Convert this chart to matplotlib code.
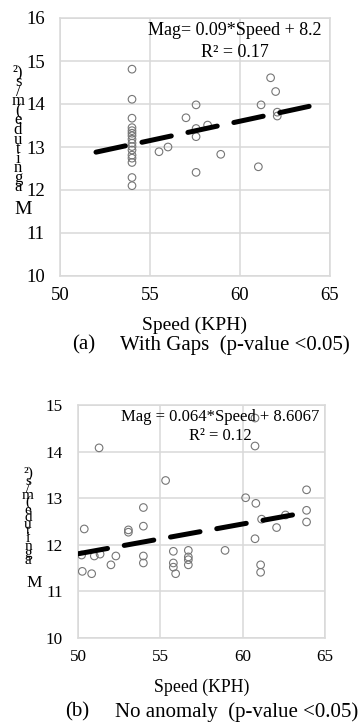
import matplotlib
matplotlib.use("Agg")
import matplotlib.pyplot as plt
import numpy as np

plt.rcParams['font.family'] = ['Liberation Serif', 'DejaVu Serif']

# (a) With gaps
speed_a = [54, 54, 54, 54, 54, 54, 54, 54, 54, 54, 54, 54, 54, 54, 54, 54,
           55.5, 56.0, 57.0, 57.56, 57.56, 57.56, 58.2, 58.93, 57.56,
           61.7, 61.98, 61.17, 62.07, 62.07, 61.02]
mag_a = [14.81, 14.11, 13.67, 13.45, 13.38, 13.32, 13.26, 13.18, 13.09, 13.01,
         12.93, 12.81, 12.74, 12.64, 12.29, 12.10,
         12.89, 13.00, 13.68, 13.98, 13.43, 13.24, 13.51, 12.83, 12.41,
         14.61, 14.29, 13.98, 13.81, 13.72, 12.54]
slope_a, icpt_a = 0.09, 8.2
fit_range_a = [52, 64]

# (b) No anomaly
speed_b = [50.38, 50.22, 50.26, 50.83, 50.99, 51.34, 51.28, 52.0, 52.3, 53.06,
           53.06, 53.97, 53.97, 53.97, 53.97, 55.32, 55.79, 55.79, 55.79, 55.93,
           56.7, 56.7, 56.7, 56.7, 58.93, 60.18, 60.75, 60.75, 60.8, 60.75,
           61.09, 61.09, 61.15, 62.06, 62.6, 63.88, 63.88, 63.88]
mag_b = [12.34, 11.78, 11.43, 11.38, 11.76, 11.80, 14.08, 11.57, 11.76, 12.32,
         12.27, 12.80, 12.40, 11.76, 11.61, 13.38, 11.86, 11.61, 11.52, 11.38,
         11.88, 11.74, 11.68, 11.57, 11.88, 13.01, 14.72, 14.12, 12.89, 12.13,
         11.57, 11.41, 12.55, 12.37, 12.64, 13.18, 12.74, 12.49]
slope_b, icpt_b = 0.064, 8.6067
fit_range_b = [50, 64]

W, H = 358, 722
fig = plt.figure(figsize=(W / 100, H / 100), dpi=100)

def px(x0, y0, x1, y1):
    return [x0 / W, 1 - y1 / H, (x1 - x0) / W, (y1 - y0) / H]

def draw(ax, xs, ys, slope, icpt, fit_range, ylim, eq, r2, eq_x, fs, fs_eq):
    grid_c = '#d9d9d9'
    ax.set_xlim(50, 65)
    ax.set_ylim(*ylim)
    ax.set_xticks([50, 55, 60, 65])
    ax.set_yticks(np.arange(ylim[0], ylim[1] + 1, 1))
    ax.grid(True, color=grid_c, lw=1.1)
    ax.set_axisbelow(True)
    for s in ax.spines.values():
        s.set_color(grid_c)
        s.set_linewidth(1.1)
    ax.tick_params(axis='y', length=0, labelsize=fs, pad=11)
    ax.tick_params(axis='x', length=0, labelsize=fs, pad=8)
    ax.scatter(xs, ys, s=30, facecolors='none', edgecolors='#767676',
               linewidths=0.8, zorder=3)
    fx = np.array(fit_range, dtype=float)
    ax.plot(fx, slope * fx + icpt, color='black', lw=3.6,
            dashes=(6, 3.4), dash_capstyle='round', zorder=4)
    ax.text(eq_x, 0.95, eq, transform=ax.transAxes, ha='center', va='center',
            fontsize=fs_eq, zorder=5)
    ax.text(eq_x, 0.868, r2, transform=ax.transAxes, ha='center', va='center',
            fontsize=fs_eq, zorder=5)

ax1 = fig.add_axes(px(60, 18, 330, 276))
draw(ax1, speed_a, mag_a, slope_a, icpt_a, fit_range_a, (10, 16),
     'Mag= 0.09*Speed + 8.2', 'R² = 0.17', 0.648, 13.5, 13)
ax1.set_xlabel('Speed (KPH)', fontsize=14, va='center')
ax1.xaxis.set_label_coords(0.5, (276 - 325) / 258)

ax2 = fig.add_axes(px(78, 405, 325, 638))
draw(ax2, speed_b, mag_b, slope_b, icpt_b, fit_range_b, (10, 15),
     'Mag = 0.064*Speed + 8.6067', 'R² = 0.12', 0.577, 12.3, 12)
ax2.set_xlabel('Speed (KPH)', fontsize=12.8, va='center')
ax2.xaxis.set_label_coords(0.5, (638 - 687) / 233)

# y-label: letters of "Magnitude (m/s²)" stacked one above the other
stack = '\n'.join(['²)', 's', '/', 'm', '(', 'e', 'd', 'u', 't', 'i', 'n', 'g', 'a'])
fig.text(23 / W, 1 - 210 / H, 'M', ha='center', va='center', fontsize=14)
fig.text(18 / W, 1 - 130 / H, stack, ha='center', va='center', fontsize=12,
         linespacing=0.46, multialignment='center')
fig.text(34 / W, 1 - 583 / H, 'M', ha='center', va='center', fontsize=12.5)
fig.text(28 / W, 1 - 517 / H, stack, ha='center', va='center', fontsize=11,
         linespacing=0.42, multialignment='center')

# captions
fig.text(72 / W, 1 - 345 / H, '(a)', ha='left', va='center', fontsize=15)
fig.text(120 / W, 1 - 345 / H, 'With Gaps  (p-value <0.05)', ha='left',
         va='center', fontsize=15)
fig.text(65 / W, 1 - 712 / H, '(b)', ha='left', va='center', fontsize=15)
fig.text(115 / W, 1 - 712 / H, 'No anomaly  (p-value <0.05)', ha='left',
         va='center', fontsize=15)

fig.savefig('out.png', dpi=100)
